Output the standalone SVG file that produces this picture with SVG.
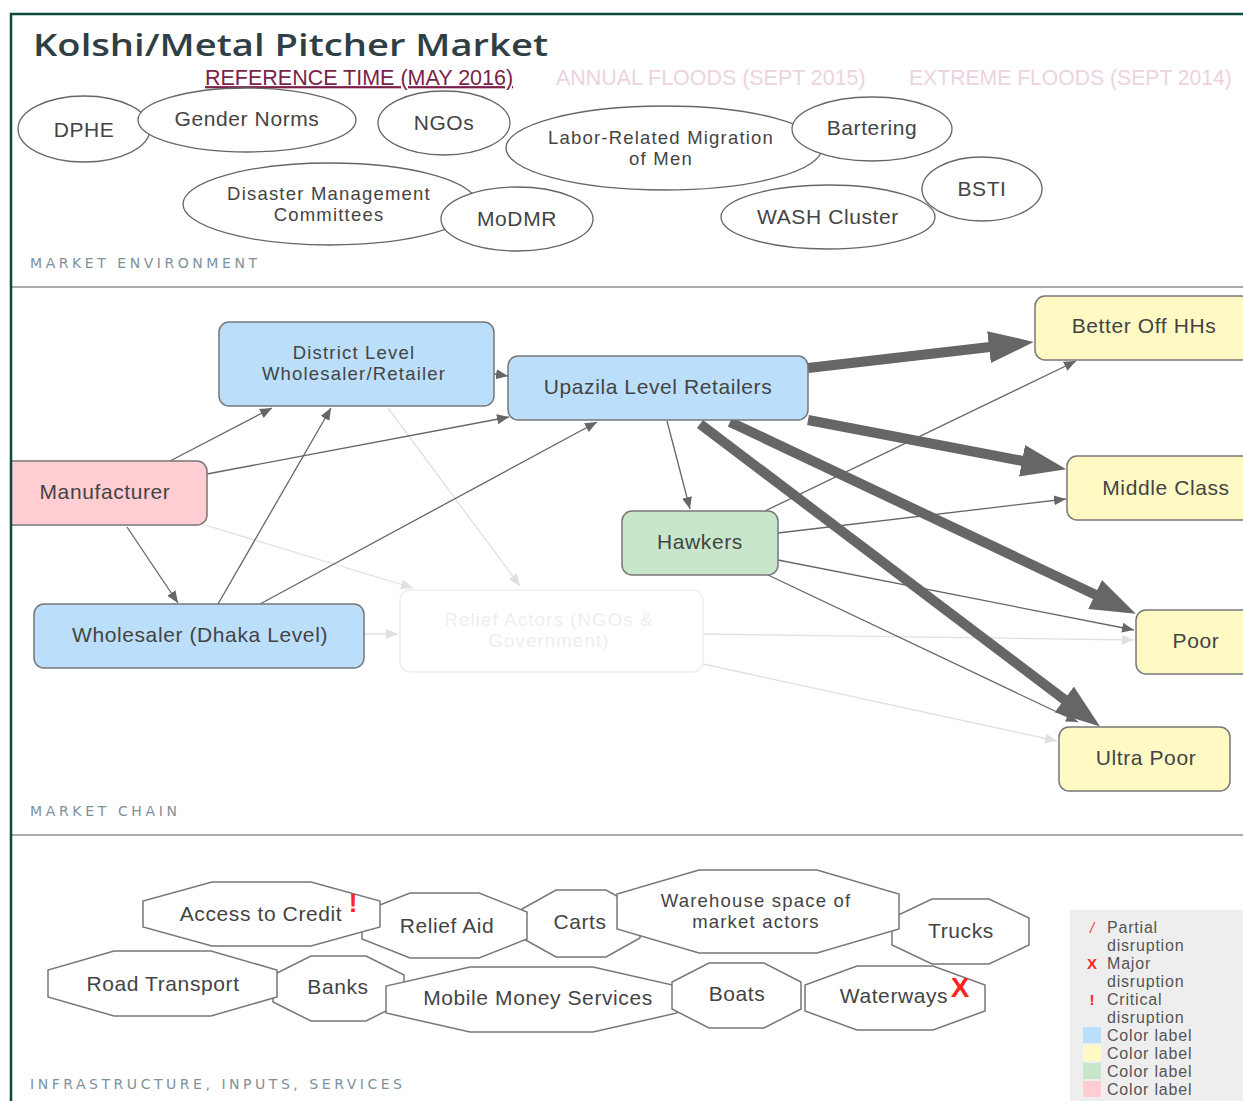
<svg xmlns="http://www.w3.org/2000/svg" width="1243" height="1101" viewBox="0 0 1243 1101">
<defs>
<style>
.lbl{font-family:"Liberation Sans",Arial,sans-serif;font-size:21px;letter-spacing:0.6px;fill:#444;text-anchor:middle}
.lb2{font-family:"Liberation Sans",Arial,sans-serif;font-size:18.5px;letter-spacing:1.2px;fill:#444;text-anchor:middle}
.env{fill:#fff;stroke:#666;stroke-width:1.3}
.oct{fill:#fff;stroke:#777;stroke-width:1.5}
.box{stroke:#777;stroke-width:1.5}
.blue{fill:#bbdefb}.yel{fill:#fff9c4}.grn{fill:#c8e6c9}.pnk{fill:#ffcdd2}
.sec{font-family:"DejaVu Sans",sans-serif;font-size:14px;fill:#7d919b}
.thin{stroke:#666;stroke-width:1.3;fill:none;marker-end:url(#ah)}
.faint{stroke:#e0e0e0;stroke-width:1.3;fill:none;marker-end:url(#fh)}
.thick{stroke:#666;stroke-width:10;fill:none;marker-end:url(#th)}
.time{font-family:"Liberation Sans",Arial,sans-serif;font-size:22px}
.leg{font-family:"Liberation Sans",Arial,sans-serif;font-size:16px;letter-spacing:0.8px;fill:#555}
.red{font-family:"Liberation Sans",Arial,sans-serif;fill:#f22;font-weight:bold}
</style>
<marker id="ah" markerWidth="14" markerHeight="12" refX="12" refY="5" orient="auto" markerUnits="userSpaceOnUse"><path d="M0,0 L12,5 L0,10 z" fill="#666"/></marker>
<marker id="fh" markerWidth="14" markerHeight="12" refX="12" refY="5" orient="auto" markerUnits="userSpaceOnUse"><path d="M0,0 L12,5 L0,10 z" fill="#e0e0e0"/></marker>
<marker id="th" markerWidth="48" markerHeight="34" refX="1" refY="16" orient="auto" markerUnits="userSpaceOnUse"><path d="M0,0 L45,16 L0,32 z" fill="#666"/></marker>
</defs>
<rect width="1243" height="1101" fill="#fff"/>

<!-- header -->
<text x="33" y="56" font-family="Open Sans,DejaVu Sans,sans-serif" font-size="30" font-weight="600" fill="#2f3f45" textLength="515" lengthAdjust="spacingAndGlyphs">Kolshi/Metal Pitcher Market</text>
<g transform="translate(205,85) scale(0.78,1)"><text x="0" y="0" class="time" fill="#7a1f4a" text-decoration="underline" textLength="395" lengthAdjust="spacingAndGlyphs">REFERENCE  TIME  (MAY  2016)</text></g>
<g transform="translate(556,85) scale(0.78,1)"><text x="0" y="0" class="time" fill="#ecd3df" textLength="397" lengthAdjust="spacingAndGlyphs">ANNUAL  FLOODS  (SEPT  2015)</text></g>
<g transform="translate(909,85) scale(0.78,1)"><text x="0" y="0" class="time" fill="#ecd3df" textLength="414" lengthAdjust="spacingAndGlyphs">EXTREME  FLOODS  (SEPT  2014)</text></g>

<!-- market environment -->
<g id="env-dphe"><ellipse class="env" cx="84" cy="129" rx="66" ry="33"/><text class="lbl" x="84" y="137">DPHE</text></g>
<g id="env-gender"><ellipse class="env" cx="247" cy="120" rx="109" ry="32"/><text class="lbl" x="247" y="126">Gender Norms</text></g>
<g id="env-ngos"><ellipse class="env" cx="444" cy="123" rx="66" ry="32"/><text class="lbl" x="444" y="130">NGOs</text></g>
<g id="env-labor"><ellipse class="env" cx="664" cy="148" rx="158" ry="42"/><text class="lb2" x="661" y="144">Labor-Related Migration</text><text class="lb2" x="661" y="165">of Men</text></g>
<g id="env-bartering"><ellipse class="env" cx="872" cy="129" rx="80" ry="32"/><text class="lbl" x="872" y="135">Bartering</text></g>
<g id="env-dmc"><ellipse class="env" cx="330" cy="204" rx="147" ry="41"/><text class="lb2" x="329" y="200">Disaster Management</text><text class="lb2" x="329" y="221">Committees</text></g>
<g id="env-modmr"><ellipse class="env" cx="517" cy="219" rx="76" ry="32"/><text class="lbl" x="517" y="226">MoDMR</text></g>
<g id="env-bsti"><ellipse class="env" cx="982" cy="189" rx="60" ry="32"/><text class="lbl" x="982" y="196">BSTI</text></g>
<g id="env-wash"><ellipse class="env" cx="828" cy="217" rx="107" ry="32"/><text class="lbl" x="828" y="224">WASH Cluster</text></g>
<text class="sec" x="30" y="268" textLength="227" lengthAdjust="spacing">MARKET ENVIRONMENT</text>

<line x1="12" y1="287" x2="1243" y2="287" stroke="#aaa" stroke-width="2"/>
<line x1="12" y1="835" x2="1243" y2="835" stroke="#aaa" stroke-width="2"/>

<!-- connectors -->
<g id="connectors">
<path class="faint" d="M205,525 L413,588"/>
<path class="faint" d="M388,408 L520,586"/>
<path class="faint" d="M364,634 L398,634"/>
<path class="faint" d="M703,634 L1134,640"/>
<path class="faint" d="M703,664 L1057,741"/>
<path class="thin" d="M170,461 L272,408"/>
<path class="thin" d="M207,474 L509,417"/>
<path class="thin" d="M127,527 L178,603"/>
<path class="thin" d="M218,604 L331,408"/>
<path class="thin" d="M260,604 L597,422"/>
<path class="thin" d="M494,374 L508,376"/>
<path class="thin" d="M667,421 L690,509"/>
<path class="thin" d="M765,511 L1076,361"/>
<path class="thin" d="M778,533 L1066,499"/>
<path class="thin" d="M778,560 L1134,630"/>
<path class="thin" d="M768,575 L1078,722"/>
<path class="thick" d="M808,368 L990,347"/>
<path class="thick" d="M808,420 L1023,461"/>
<path class="thick" d="M730,422 L1096,595"/>
<path class="thick" d="M700,424 L1065,700"/>
</g>

<!-- market chain nodes -->
<g id="n-district"><rect class="box blue" x="219" y="322" width="275" height="84" rx="10"/><text class="lb2" x="354" y="359">District Level</text><text class="lb2" x="354" y="380">Wholesaler/Retailer</text></g>
<g id="n-upazila"><rect class="box blue" x="508" y="356" width="300" height="64" rx="10"/><text class="lbl" x="658" y="394">Upazila Level Retailers</text></g>
<g id="n-manufacturer"><rect class="box pnk" x="2" y="461" width="205" height="64" rx="10"/><text class="lbl" x="105" y="499">Manufacturer</text></g>
<g id="n-wholesaler"><rect class="box blue" x="34" y="604" width="330" height="64" rx="10"/><text class="lbl" x="200" y="642">Wholesaler (Dhaka Level)</text></g>
<g id="n-relief"><rect x="400" y="590" width="303" height="82" rx="10" fill="#fff" stroke="#eee" stroke-width="1.5"/><text class="lb2" x="549" y="626" style="fill:#eee">Relief Actors (NGOs &amp;</text><text class="lb2" x="549" y="647" style="fill:#eee">Government)</text></g>
<g id="n-hawkers"><rect class="box grn" x="622" y="511" width="156" height="64" rx="10"/><text class="lbl" x="700" y="549">Hawkers</text></g>
<g id="n-betteroff"><rect class="box yel" x="1035" y="296" width="216" height="64" rx="10"/><text class="lbl" x="1144" y="333">Better Off HHs</text></g>
<g id="n-middle"><rect class="box yel" x="1067" y="456" width="196" height="64" rx="10"/><text class="lbl" x="1166" y="495">Middle Class</text></g>
<g id="n-poor"><rect class="box yel" x="1136" y="610" width="118" height="64" rx="10"/><text class="lbl" x="1196" y="648">Poor</text></g>
<g id="n-ultrapoor"><rect class="box yel" x="1059" y="727" width="171" height="64" rx="10"/><text class="lbl" x="1146" y="765">Ultra Poor</text></g>
<text class="sec" x="30" y="816" textLength="147" lengthAdjust="spacing">MARKET CHAIN</text>

<!-- infrastructure -->
<g id="i-banks"><polygon class="oct" points="311,956 366,956 404,975 404,1002 366,1021 311,1021 273,1002 273,975"/><text class="lbl" x="338" y="994">Banks</text></g>
<g id="i-road"><polygon class="oct" points="114,951 211,951 277,970 277,997 211,1016 114,1016 48,997 48,970"/><text class="lbl" x="163" y="991">Road Transport</text></g>
<g id="i-mobile"><polygon class="oct" points="470,967 593,967 677,986 677,1013 593,1032 470,1032 386,1013 386,986"/><text class="lbl" x="538" y="1005">Mobile Money Services</text></g>
<g id="i-boats"><polygon class="oct" points="709,963 764,963 801,982 801,1009 764,1028 709,1028 672,1009 672,982"/><text class="lbl" x="737" y="1001">Boats</text></g>
<g id="i-waterways"><polygon class="oct" points="857,966 933,966 985,985 985,1011 933,1030 857,1030 805,1011 805,985"/><text class="lbl" x="894" y="1003">Waterways</text><text class="red" x="960" y="997" font-size="28" text-anchor="middle">X</text></g>
<g id="i-carts"><polygon class="oct" points="556,890 606,890 640,909 640,938 606,957 556,957 522,938 522,909"/><text class="lbl" x="580" y="929">Carts</text></g>
<g id="i-relief"><polygon class="oct" points="410,893 479,893 527,912 527,939 479,958 410,958 362,939 362,912"/><text class="lbl" x="447" y="933">Relief Aid</text></g>
<g id="i-credit"><polygon class="oct" points="212,882 311,882 380,901 380,927 311,946 212,946 143,927 143,901"/><text class="lbl" x="261" y="921">Access to Credit</text><text class="red" x="353" y="912" font-size="26" text-anchor="middle">!</text></g>
<g id="i-trucks"><polygon class="oct" points="932,899 989,899 1029,918 1029,945 989,964 932,964 892,945 892,918"/><text class="lbl" x="961" y="938">Trucks</text></g>
<g id="i-warehouse"><polygon class="oct" points="699,870 817,870 899,894 899,929 817,953 699,953 617,929 617,894"/><text class="lb2" x="756" y="907">Warehouse space of</text><text class="lb2" x="756" y="928">market actors</text></g>
<text class="sec" x="30" y="1089" textLength="372" lengthAdjust="spacing">INFRASTRUCTURE, INPUTS, SERVICES</text>

<!-- legend -->
<g id="legend">
<rect x="1070" y="910" width="173" height="191" fill="#eeeeee"/>
<text x="1092" y="933" font-family="Liberation Sans,sans-serif" font-size="15" fill="#f33" font-style="italic" text-anchor="middle">/</text>
<text class="leg" x="1107" y="933">Partial</text><text class="leg" x="1107" y="951">disruption</text>
<text class="red" x="1092" y="969" font-size="15" text-anchor="middle">X</text>
<text class="leg" x="1107" y="969">Major</text><text class="leg" x="1107" y="987">disruption</text>
<text class="red" x="1092" y="1005" font-size="15" text-anchor="middle">!</text>
<text class="leg" x="1107" y="1005">Critical</text><text class="leg" x="1107" y="1023">disruption</text>
<rect x="1083" y="1027" width="18" height="16" fill="#bbdefb"/><text class="leg" x="1107" y="1041">Color label</text>
<rect x="1083" y="1045" width="18" height="16" fill="#fff9c4"/><text class="leg" x="1107" y="1059">Color label</text>
<rect x="1083" y="1063" width="18" height="16" fill="#c8e6c9"/><text class="leg" x="1107" y="1077">Color label</text>
<rect x="1083" y="1081" width="18" height="16" fill="#ffcdd2"/><text class="leg" x="1107" y="1095">Color label</text>
</g>

<!-- frame -->
<rect x="0" y="0" width="10" height="1101" fill="#fff"/>
<path d="M11,1101 L11,14 L1243,14" fill="none" stroke="#0d4a3e" stroke-width="2.5"/>
</svg>
